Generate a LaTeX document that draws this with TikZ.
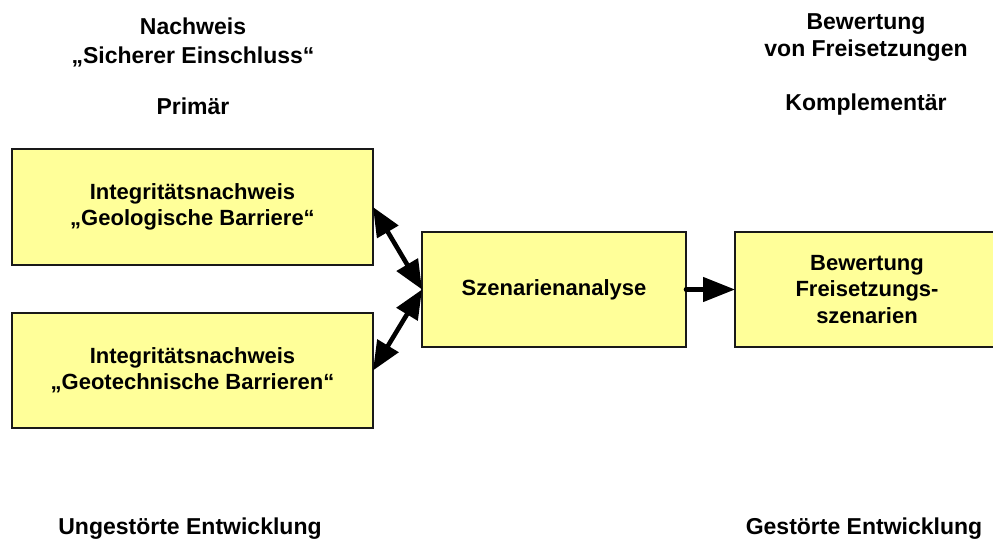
\documentclass[tikz,border=0pt]{standalone}
\usepackage{fontspec}
\setmainfont{Liberation Sans}
\usetikzlibrary{arrows.meta}
\definecolor{boxyellow}{HTML}{FFFF99}
\begin{document}
\begin{tikzpicture}[x=1pt,y=-1pt,
  box/.style={draw=black!90, line width=1.2pt, fill=boxyellow, inner sep=0pt, outer sep=0pt,
    align=center, font=\fontsize{22}{26.4}\selectfont\bfseries},
  heading/.style={anchor=base, inner sep=0pt, font=\fontsize{23}{27}\selectfont\bfseries},
  conn/.style={line width=4.6pt, line cap=round},
  tip/.style={-{Triangle[length=32pt,width=24pt]}},
  dbltip/.style={{Triangle[length=29pt,width=24pt]}-{Triangle[length=29pt,width=24pt]}}
]
\useasboundingbox (0,0) rectangle (993,539);
\clip (0,0) rectangle (993,539);

% headings
\node[heading] (hl1) at (193,34) {Nachweis};
\node[heading] (hl2) at (193,63) {„Sicherer Einschluss“};
\node[heading] (hl3) at (193,114) {Primär};
\node[heading] (hr1) at (866,29) {Bewertung};
\node[heading] (hr2) at (866,56) {von Freisetzungen};
\node[heading] (hr3) at (866,110) {Komplementär};
\node[heading] (bl) at (190,534) {Ungestörte Entwicklung};
\node[heading] (br) at (864,534) {Gestörte Entwicklung};

% boxes
\node[box, minimum width=361pt, minimum height=116pt] (geo) at (192.5,207)
  {Integritätsnachweis\\„Geologische Barriere“};
\node[box, minimum width=361pt, minimum height=115pt] (tech) at (192.5,370.5)
  {Integritätsnachweis\\„Geotechnische Barrieren“};
\node[box, minimum width=264pt, minimum height=115pt] (szen) at (554,289.5)
  {Szenarienanalyse};
\node[box, minimum width=264pt, minimum height=115pt] (bew) at (867,289.5)
  {Bewertung\\Freisetzungs-\\szenarien};

% connectors
\draw[conn, dbltip] (geo.east) -- (szen.west);
\draw[conn, dbltip] (tech.east) -- (szen.west);
\draw[conn, tip] (szen.east) -- (bew.west);
\end{tikzpicture}
\end{document}
